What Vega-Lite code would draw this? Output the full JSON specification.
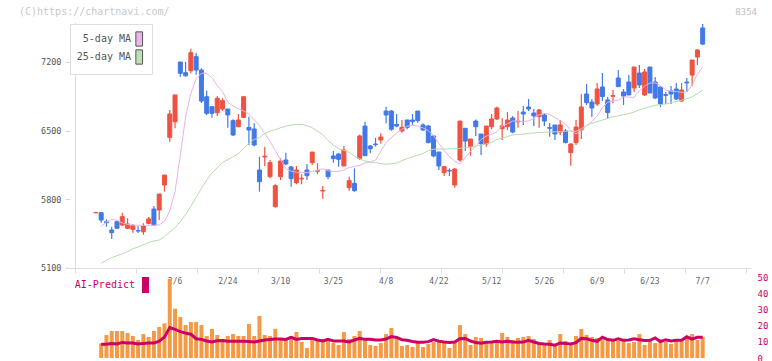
{
  "$schema": "https://vega.github.io/schema/vega-lite/v6.json",
  "width": 681,
  "height": 348,
  "autosize": {"type": "none"},
  "padding": {"left": 70, "top": 10, "right": 21, "bottom": 3},
  "background": "#ffffff",
  "config": {
    "view": {"stroke": null},
    "font": "DejaVu Sans Mono",
    "axis": {"labelFont": "DejaVu Sans Mono", "grid": false, "title": null},
    "legend": {"labelFont": "DejaVu Sans Mono"}
  },
  "title": {"text": "8354", "anchor": "end", "frame": "group", "orient": "top", "offset": 0, "dx": 6, "dy": 10, "fontSize": 9, "fontWeight": "normal", "color": "#c0c0c0", "font": "DejaVu Sans Mono"},
  "data": {"values": [
    {"date": "2026-01-16", "o": 5662, "h": 5666, "l": 5662, "c": 5666, "ma5": null, "ma25": null, "vol": null, "ai": null},
    {"date": "2026-01-19", "o": 5664, "h": 5670, "l": 5562, "c": 5589, "ma5": 5525, "ma25": 5150, "vol": 9.1, "ai": 8.5},
    {"date": "2026-01-20", "o": 5572, "h": 5596, "l": 5521, "c": 5562, "ma5": 5570, "ma25": 5180, "vol": 14.3, "ai": 8.5},
    {"date": "2026-01-21", "o": 5487, "h": 5521, "l": 5396, "c": 5460, "ma5": 5595, "ma25": 5205, "vol": 16.8, "ai": 9.0},
    {"date": "2026-01-22", "o": 5572, "h": 5582, "l": 5505, "c": 5505, "ma5": 5585, "ma25": 5225, "vol": 16.8, "ai": 8.7},
    {"date": "2026-01-23", "o": 5538, "h": 5664, "l": 5531, "c": 5623, "ma5": 5560, "ma25": 5245, "vol": 16.8, "ai": 9.7},
    {"date": "2026-01-26", "o": 5505, "h": 5607, "l": 5500, "c": 5549, "ma5": 5545, "ma25": 5265, "vol": 15.6, "ai": 9.3},
    {"date": "2026-01-27", "o": 5494, "h": 5549, "l": 5460, "c": 5531, "ma5": 5538, "ma25": 5295, "vol": 13.7, "ai": 9.3},
    {"date": "2026-01-28", "o": 5481, "h": 5525, "l": 5457, "c": 5477, "ma5": 5535, "ma25": 5315, "vol": 11.2, "ai": 8.7},
    {"date": "2026-01-29", "o": 5470, "h": 5555, "l": 5440, "c": 5528, "ma5": 5535, "ma25": 5335, "vol": 14.9, "ai": 9.1},
    {"date": "2026-01-30", "o": 5555, "h": 5620, "l": 5545, "c": 5600, "ma5": 5535, "ma25": 5360, "vol": 13.1, "ai": 9.3},
    {"date": "2026-02-02", "o": 5701, "h": 5732, "l": 5528, "c": 5538, "ma5": 5535, "ma25": 5375, "vol": 16.8, "ai": 9.3},
    {"date": "2026-02-03", "o": 5691, "h": 5854, "l": 5589, "c": 5854, "ma5": 5540, "ma25": 5385, "vol": 19.3, "ai": 10.5},
    {"date": "2026-02-04", "o": 5946, "h": 6048, "l": 5878, "c": 6048, "ma5": 5575, "ma25": 5420, "vol": 21.6, "ai": 13.0},
    {"date": "2026-02-05", "o": 6432, "h": 6711, "l": 6388, "c": 6670, "ma5": 5680, "ma25": 5465, "vol": 49.2, "ai": 19.0},
    {"date": "2026-02-06", "o": 6591, "h": 6864, "l": 6524, "c": 6864, "ma5": 5880, "ma25": 5510, "vol": 30.7, "ai": 17.8},
    {"date": "2026-02-09", "o": 7200, "h": 7200, "l": 7050, "c": 7085, "ma5": 6250, "ma25": 5575, "vol": 25.5, "ai": 16.4},
    {"date": "2026-02-10", "o": 7091, "h": 7200, "l": 7050, "c": 7060, "ma5": 6640, "ma25": 5645, "vol": 20.5, "ai": 15.5},
    {"date": "2026-02-12", "o": 7111, "h": 7336, "l": 7085, "c": 7295, "ma5": 6880, "ma25": 5730, "vol": 22.4, "ai": 14.8},
    {"date": "2026-02-13", "o": 7254, "h": 7295, "l": 7071, "c": 7118, "ma5": 7030, "ma25": 5820, "vol": 22.4, "ai": 12.0},
    {"date": "2026-02-16", "o": 7118, "h": 7136, "l": 6782, "c": 6802, "ma5": 7085, "ma25": 5910, "vol": 20.5, "ai": 11.6},
    {"date": "2026-02-17", "o": 6846, "h": 6907, "l": 6660, "c": 6677, "ma5": 7085, "ma25": 5995, "vol": 13.7, "ai": 10.6},
    {"date": "2026-02-18", "o": 6744, "h": 6744, "l": 6632, "c": 6677, "ma5": 7040, "ma25": 6070, "vol": 18.1, "ai": 10.0},
    {"date": "2026-02-19", "o": 6683, "h": 6853, "l": 6650, "c": 6830, "ma5": 6960, "ma25": 6120, "vol": 14.3, "ai": 10.7},
    {"date": "2026-02-20", "o": 6721, "h": 6830, "l": 6700, "c": 6806, "ma5": 6900, "ma25": 6175, "vol": 11.8, "ai": 10.9},
    {"date": "2026-02-24", "o": 6721, "h": 6721, "l": 6530, "c": 6660, "ma5": 6790, "ma25": 6205, "vol": 13.7, "ai": 10.4},
    {"date": "2026-02-25", "o": 6602, "h": 6616, "l": 6446, "c": 6456, "ma5": 6750, "ma25": 6235, "vol": 14.9, "ai": 10.4},
    {"date": "2026-02-26", "o": 6541, "h": 6670, "l": 6534, "c": 6609, "ma5": 6725, "ma25": 6265, "vol": 13.7, "ai": 10.4},
    {"date": "2026-02-27", "o": 6636, "h": 6846, "l": 6630, "c": 6846, "ma5": 6700, "ma25": 6320, "vol": 13.7, "ai": 10.4},
    {"date": "2026-03-02", "o": 6534, "h": 6643, "l": 6354, "c": 6507, "ma5": 6670, "ma25": 6370, "vol": 21.2, "ai": 10.2},
    {"date": "2026-03-03", "o": 6517, "h": 6575, "l": 6340, "c": 6354, "ma5": 6610, "ma25": 6410, "vol": 13.7, "ai": 9.9},
    {"date": "2026-03-04", "o": 6099, "h": 6235, "l": 5878, "c": 5980, "ma5": 6555, "ma25": 6430, "vol": 26.2, "ai": 10.6},
    {"date": "2026-03-05", "o": 6232, "h": 6337, "l": 6140, "c": 6240, "ma5": 6470, "ma25": 6470, "vol": 14.3, "ai": 11.2},
    {"date": "2026-03-06", "o": 6031, "h": 6201, "l": 6014, "c": 6174, "ma5": 6390, "ma25": 6495, "vol": 13.7, "ai": 11.5},
    {"date": "2026-03-09", "o": 5725, "h": 5953, "l": 5718, "c": 5939, "ma5": 6300, "ma25": 6510, "vol": 18.1, "ai": 11.8},
    {"date": "2026-03-10", "o": 6031, "h": 6218, "l": 5997, "c": 6191, "ma5": 6200, "ma25": 6530, "vol": 11.8, "ai": 11.9},
    {"date": "2026-03-11", "o": 6201, "h": 6276, "l": 6150, "c": 6160, "ma5": 6112, "ma25": 6545, "vol": 11.8, "ai": 11.6},
    {"date": "2026-03-12", "o": 6130, "h": 6140, "l": 5929, "c": 6011, "ma5": 6087, "ma25": 6558, "vol": 13.7, "ai": 12.9},
    {"date": "2026-03-13", "o": 5970, "h": 6140, "l": 5953, "c": 6099, "ma5": 6076, "ma25": 6562, "vol": 16.2, "ai": 11.6},
    {"date": "2026-03-16", "o": 6008, "h": 6055, "l": 5953, "c": 6014, "ma5": 6072, "ma25": 6564, "vol": 10.0, "ai": 12.2},
    {"date": "2026-03-17", "o": 6099, "h": 6160, "l": 5997, "c": 6041, "ma5": 6073, "ma25": 6550, "vol": 6.2, "ai": 12.2},
    {"date": "2026-03-18", "o": 6174, "h": 6282, "l": 6150, "c": 6282, "ma5": 6084, "ma25": 6530, "vol": 12.5, "ai": 12.2},
    {"date": "2026-03-19", "o": 6086, "h": 6167, "l": 6055, "c": 6092, "ma5": 6097, "ma25": 6495, "vol": 11.2, "ai": 11.2},
    {"date": "2026-03-23", "o": 5885, "h": 5936, "l": 5807, "c": 5891, "ma5": 6112, "ma25": 6460, "vol": 11.8, "ai": 10.6},
    {"date": "2026-03-24", "o": 6099, "h": 6099, "l": 6004, "c": 6031, "ma5": 6092, "ma25": 6400, "vol": 11.8, "ai": 11.6},
    {"date": "2026-03-25", "o": 6242, "h": 6293, "l": 6174, "c": 6215, "ma5": 6084, "ma25": 6355, "vol": 9.3, "ai": 10.6},
    {"date": "2026-03-26", "o": 6262, "h": 6269, "l": 6133, "c": 6208, "ma5": 6086, "ma25": 6318, "vol": 8.1, "ai": 10.6},
    {"date": "2026-03-27", "o": 6140, "h": 6344, "l": 6140, "c": 6303, "ma5": 6100, "ma25": 6300, "vol": 16.2, "ai": 10.6},
    {"date": "2026-03-30", "o": 5919, "h": 6031, "l": 5888, "c": 5990, "ma5": 6125, "ma25": 6280, "vol": 11.8, "ai": 10.0},
    {"date": "2026-03-31", "o": 5963, "h": 6116, "l": 5878, "c": 5888, "ma5": 6135, "ma25": 6240, "vol": 13.7, "ai": 11.2},
    {"date": "2026-04-01", "o": 6218, "h": 6462, "l": 6201, "c": 6446, "ma5": 6145, "ma25": 6212, "vol": 16.8, "ai": 12.2},
    {"date": "2026-04-02", "o": 6547, "h": 6592, "l": 6245, "c": 6245, "ma5": 6172, "ma25": 6192, "vol": 11.2, "ai": 11.6},
    {"date": "2026-04-03", "o": 6344, "h": 6354, "l": 6269, "c": 6316, "ma5": 6179, "ma25": 6180, "vol": 8.1, "ai": 11.6},
    {"date": "2026-04-06", "o": 6364, "h": 6428, "l": 6337, "c": 6358, "ma5": 6200, "ma25": 6176, "vol": 7.5, "ai": 11.2},
    {"date": "2026-04-07", "o": 6405, "h": 6473, "l": 6367, "c": 6435, "ma5": 6290, "ma25": 6165, "vol": 9.3, "ai": 11.2},
    {"date": "2026-04-08", "o": 6700, "h": 6744, "l": 6575, "c": 6660, "ma5": 6380, "ma25": 6157, "vol": 14.9, "ai": 11.8},
    {"date": "2026-04-09", "o": 6700, "h": 6711, "l": 6500, "c": 6514, "ma5": 6430, "ma25": 6163, "vol": 18.7, "ai": 13.3},
    {"date": "2026-04-10", "o": 6564, "h": 6670, "l": 6534, "c": 6547, "ma5": 6475, "ma25": 6170, "vol": 11.8, "ai": 12.8},
    {"date": "2026-04-13", "o": 6497, "h": 6609, "l": 6480, "c": 6534, "ma5": 6515, "ma25": 6195, "vol": 7.5, "ai": 11.4},
    {"date": "2026-04-14", "o": 6609, "h": 6609, "l": 6514, "c": 6534, "ma5": 6545, "ma25": 6215, "vol": 8.1, "ai": 11.0},
    {"date": "2026-04-15", "o": 6609, "h": 6670, "l": 6558, "c": 6592, "ma5": 6555, "ma25": 6233, "vol": 6.8, "ai": 10.3},
    {"date": "2026-04-16", "o": 6700, "h": 6700, "l": 6581, "c": 6602, "ma5": 6545, "ma25": 6250, "vol": 9.3, "ai": 9.8},
    {"date": "2026-04-17", "o": 6558, "h": 6575, "l": 6500, "c": 6507, "ma5": 6528, "ma25": 6268, "vol": 6.8, "ai": 9.8},
    {"date": "2026-04-20", "o": 6547, "h": 6558, "l": 6371, "c": 6378, "ma5": 6500, "ma25": 6295, "vol": 8.7, "ai": 10.2},
    {"date": "2026-04-21", "o": 6446, "h": 6446, "l": 6228, "c": 6242, "ma5": 6450, "ma25": 6310, "vol": 10.0, "ai": 11.5},
    {"date": "2026-04-22", "o": 6282, "h": 6282, "l": 6099, "c": 6140, "ma5": 6370, "ma25": 6313, "vol": 10.0, "ai": 10.5},
    {"date": "2026-04-23", "o": 6072, "h": 6140, "l": 6038, "c": 6133, "ma5": 6300, "ma25": 6313, "vol": 10.0, "ai": 10.0},
    {"date": "2026-04-24", "o": 6095, "h": 6116, "l": 6038, "c": 6089, "ma5": 6235, "ma25": 6313, "vol": 6.2, "ai": 9.6},
    {"date": "2026-04-27", "o": 5946, "h": 6119, "l": 5919, "c": 6109, "ma5": 6190, "ma25": 6316, "vol": 10.0, "ai": 10.0},
    {"date": "2026-04-28", "o": 6201, "h": 6598, "l": 6184, "c": 6598, "ma5": 6160, "ma25": 6320, "vol": 20.5, "ai": 12.0},
    {"date": "2026-04-30", "o": 6524, "h": 6524, "l": 6293, "c": 6394, "ma5": 6225, "ma25": 6326, "vol": 14.9, "ai": 12.2},
    {"date": "2026-05-01", "o": 6337, "h": 6415, "l": 6245, "c": 6415, "ma5": 6290, "ma25": 6332, "vol": 8.1, "ai": 10.6},
    {"date": "2026-05-07", "o": 6598, "h": 6615, "l": 6446, "c": 6541, "ma5": 6344, "ma25": 6342, "vol": 13.1, "ai": 9.6},
    {"date": "2026-05-08", "o": 6466, "h": 6466, "l": 6252, "c": 6367, "ma5": 6410, "ma25": 6352, "vol": 12.5, "ai": 9.2},
    {"date": "2026-05-11", "o": 6364, "h": 6547, "l": 6337, "c": 6547, "ma5": 6445, "ma25": 6365, "vol": 9.3, "ai": 9.8},
    {"date": "2026-05-12", "o": 6541, "h": 6670, "l": 6514, "c": 6619, "ma5": 6462, "ma25": 6380, "vol": 10.0, "ai": 9.9},
    {"date": "2026-05-13", "o": 6619, "h": 6744, "l": 6609, "c": 6731, "ma5": 6490, "ma25": 6410, "vol": 10.0, "ai": 10.4},
    {"date": "2026-05-14", "o": 6520, "h": 6626, "l": 6405, "c": 6548, "ma5": 6547, "ma25": 6425, "vol": 15.6, "ai": 10.0},
    {"date": "2026-05-15", "o": 6541, "h": 6690, "l": 6507, "c": 6609, "ma5": 6570, "ma25": 6440, "vol": 13.1, "ai": 10.4},
    {"date": "2026-05-18", "o": 6629, "h": 6650, "l": 6473, "c": 6486, "ma5": 6598, "ma25": 6456, "vol": 11.2, "ai": 10.0},
    {"date": "2026-05-19", "o": 6590, "h": 6700, "l": 6531, "c": 6597, "ma5": 6597, "ma25": 6460, "vol": 12.5, "ai": 9.8},
    {"date": "2026-05-20", "o": 6690, "h": 6751, "l": 6558, "c": 6670, "ma5": 6593, "ma25": 6465, "vol": 13.1, "ai": 9.9},
    {"date": "2026-05-21", "o": 6741, "h": 6823, "l": 6700, "c": 6721, "ma5": 6600, "ma25": 6472, "vol": 13.7, "ai": 11.0},
    {"date": "2026-05-22", "o": 6680, "h": 6721, "l": 6548, "c": 6650, "ma5": 6625, "ma25": 6476, "vol": 11.8, "ai": 10.0},
    {"date": "2026-05-25", "o": 6643, "h": 6721, "l": 6531, "c": 6711, "ma5": 6662, "ma25": 6481, "vol": 8.7, "ai": 9.0},
    {"date": "2026-05-26", "o": 6660, "h": 6680, "l": 6548, "c": 6598, "ma5": 6675, "ma25": 6484, "vol": 8.7, "ai": 8.7},
    {"date": "2026-05-27", "o": 6531, "h": 6578, "l": 6439, "c": 6524, "ma5": 6666, "ma25": 6487, "vol": 11.2, "ai": 8.5},
    {"date": "2026-05-28", "o": 6558, "h": 6558, "l": 6405, "c": 6466, "ma5": 6635, "ma25": 6489, "vol": 7.5, "ai": 8.0},
    {"date": "2026-05-29", "o": 6486, "h": 6609, "l": 6456, "c": 6558, "ma5": 6600, "ma25": 6492, "vol": 14.9, "ai": 9.4},
    {"date": "2026-06-01", "o": 6497, "h": 6517, "l": 6371, "c": 6378, "ma5": 6570, "ma25": 6494, "vol": 10.6, "ai": 9.1},
    {"date": "2026-06-02", "o": 6276, "h": 6371, "l": 6143, "c": 6364, "ma5": 6500, "ma25": 6497, "vol": 9.3, "ai": 8.7},
    {"date": "2026-06-03", "o": 6378, "h": 6609, "l": 6354, "c": 6537, "ma5": 6468, "ma25": 6492, "vol": 13.7, "ai": 9.5},
    {"date": "2026-06-04", "o": 6507, "h": 6874, "l": 6415, "c": 6741, "ma5": 6495, "ma25": 6520, "vol": 18.1, "ai": 12.2},
    {"date": "2026-06-05", "o": 6874, "h": 6976, "l": 6762, "c": 6785, "ma5": 6550, "ma25": 6555, "vol": 14.3, "ai": 12.0},
    {"date": "2026-06-08", "o": 6792, "h": 6823, "l": 6639, "c": 6731, "ma5": 6592, "ma25": 6575, "vol": 13.1, "ai": 11.0},
    {"date": "2026-06-09", "o": 6772, "h": 6986, "l": 6751, "c": 6925, "ma5": 6650, "ma25": 6592, "vol": 12.5, "ai": 10.4},
    {"date": "2026-06-10", "o": 6945, "h": 7088, "l": 6802, "c": 6847, "ma5": 6735, "ma25": 6608, "vol": 13.1, "ai": 13.0},
    {"date": "2026-06-11", "o": 6813, "h": 6847, "l": 6619, "c": 6684, "ma5": 6790, "ma25": 6625, "vol": 11.2, "ai": 11.5},
    {"date": "2026-06-12", "o": 6851, "h": 6915, "l": 6779, "c": 6857, "ma5": 6801, "ma25": 6641, "vol": 11.2, "ai": 11.0},
    {"date": "2026-06-15", "o": 7037, "h": 7118, "l": 6949, "c": 6949, "ma5": 6810, "ma25": 6652, "vol": 10.6, "ai": 11.9},
    {"date": "2026-06-16", "o": 6894, "h": 6925, "l": 6762, "c": 6853, "ma5": 6845, "ma25": 6663, "vol": 11.2, "ai": 11.0},
    {"date": "2026-06-17", "o": 6996, "h": 7067, "l": 6864, "c": 6864, "ma5": 6842, "ma25": 6673, "vol": 9.3, "ai": 11.2},
    {"date": "2026-06-18", "o": 6935, "h": 7149, "l": 6894, "c": 7149, "ma5": 6840, "ma25": 6690, "vol": 10.0, "ai": 11.9},
    {"date": "2026-06-19", "o": 7088, "h": 7169, "l": 6935, "c": 6966, "ma5": 6905, "ma25": 6713, "vol": 14.9, "ai": 11.4},
    {"date": "2026-06-22", "o": 6864, "h": 7128, "l": 6853, "c": 7098, "ma5": 6955, "ma25": 6730, "vol": 8.1, "ai": 10.9},
    {"date": "2026-06-23", "o": 7149, "h": 7149, "l": 6884, "c": 6884, "ma5": 6985, "ma25": 6745, "vol": 10.6, "ai": 11.0},
    {"date": "2026-06-24", "o": 6996, "h": 7047, "l": 6823, "c": 6833, "ma5": 6987, "ma25": 6759, "vol": 9.3, "ai": 12.5},
    {"date": "2026-06-25", "o": 6945, "h": 6945, "l": 6741, "c": 6772, "ma5": 6960, "ma25": 6766, "vol": 11.8, "ai": 10.2},
    {"date": "2026-06-26", "o": 6868, "h": 6894, "l": 6772, "c": 6860, "ma5": 6915, "ma25": 6772, "vol": 10.0, "ai": 11.4},
    {"date": "2026-06-29", "o": 6904, "h": 6955, "l": 6772, "c": 6874, "ma5": 6902, "ma25": 6785, "vol": 8.7, "ai": 10.6},
    {"date": "2026-06-30", "o": 6925, "h": 6986, "l": 6813, "c": 6823, "ma5": 6900, "ma25": 6798, "vol": 11.2, "ai": 11.0},
    {"date": "2026-07-01", "o": 6802, "h": 6986, "l": 6792, "c": 6915, "ma5": 6890, "ma25": 6810, "vol": 11.2, "ai": 11.0},
    {"date": "2026-07-02", "o": 6996, "h": 7037, "l": 6894, "c": 6986, "ma5": 6896, "ma25": 6825, "vol": 13.1, "ai": 13.2},
    {"date": "2026-07-03", "o": 7067, "h": 7220, "l": 6955, "c": 7220, "ma5": 6965, "ma25": 6845, "vol": 14.9, "ai": 11.8},
    {"date": "2026-07-06", "o": 7251, "h": 7332, "l": 7169, "c": 7322, "ma5": 7075, "ma25": 6877, "vol": 11.2, "ai": 12.9},
    {"date": "2026-07-07", "o": 7547, "h": 7587, "l": 7373, "c": 7383, "ma5": 7150, "ma25": 6915, "vol": 13.1, "ai": 12.9}
  ]},
  "transform": [{"window": [{"op": "row_number", "as": "j"}]}],
  "encoding": {
    "x": {
      "field": "j", "type": "quantitative",
      "scale": {"domain": [-2.96, 124.21], "nice": false, "zero": false},
      "axis": {
        "orient": "bottom", "offset": -90,
        "values": [-2.96, 8.601, 20.162, 31.723, 43.284, 54.845, 66.406, 77.967, 89.528, 101.089, 112.65, 124.21],
        "labels": false, "tickSize": 5, "tickColor": "#dddddd", "domainColor": "#dddddd", "grid": false, "title": null
      }
    }
  },
  "layer": [
    {
      "layer": [
        {
          "transform": [{"filter": "datum.j == 1"}],
          "mark": {"type": "rule", "color": "#dddddd", "strokeWidth": 1},
          "encoding": {
            "x": {"datum": -2.867, "type": "quantitative"},
            "y": {"datum": 5100, "type": "quantitative", "scale": {"domain": [4182.5, 7730.1], "nice": false, "zero": false}},
            "y2": {"datum": 7600}
          }
        },
        {
          "mark": {"type": "rule", "strokeWidth": 1.2},
          "encoding": {
            "y": {
              "field": "l", "type": "quantitative",
              "scale": {"domain": [4182.5, 7730.1], "nice": false, "zero": false},
              "axis": {
                "orient": "left", "values": [5100, 5800, 6500, 7200], "format": "d", "domain": false, "grid": false,
                "tickSize": 5, "tickColor": "#d8d8d8", "labelColor": "#555555", "labelFontSize": 8.5,
                "labelPadding": 4, "title": null
              }
            },
            "y2": {"field": "h"},
            "color": {"condition": {"test": "datum.c >= datum.o", "value": "#ef5240"}, "value": "#4279e8"}
          }
        },
        {
          "mark": {"type": "bar", "width": 4, "strokeWidth": 1},
          "encoding": {
            "y": {"field": "o", "type": "quantitative", "scale": {"domain": [4182.5, 7730.1], "nice": false, "zero": false}},
            "y2": {"field": "c"},
            "color": {"condition": {"test": "datum.c >= datum.o", "value": "#ef5240"}, "value": "#4279e8"},
            "stroke": {"condition": {"test": "datum.c >= datum.o", "value": "#ef5240"}, "value": "#4279e8"}
          }
        },
        {
          "transform": [{"fold": ["ma5", "ma25"], "as": ["series", "v"]}],
          "mark": {"type": "line", "strokeWidth": 1},
          "encoding": {
            "y": {"field": "v", "type": "quantitative", "scale": {"domain": [4182.5, 7730.1], "nice": false, "zero": false}},
            "stroke": {
              "field": "series", "type": "nominal",
              "scale": {"domain": ["ma5", "ma25"], "range": ["#e8b2ea", "#b6dcae"]},
              "legend": null
            }
          }
        },
        {
          "transform": [{"fold": ["ma5", "ma25"], "as": ["series", "v"]}, {"filter": "false"}],
          "mark": {"type": "square"},
          "encoding": {
            "y": {"field": "v", "type": "quantitative", "scale": {"domain": [4182.5, 7730.1], "nice": false, "zero": false}},
            "fill": {
              "field": "series", "type": "nominal",
              "scale": {"domain": ["ma5", "ma25"], "range": ["#ebb6ea", "#bde0b5"]},
              "legend": {
                "orient": "none", "legendX": 0, "legendY": 14, "title": null,
                "labelExpr": "datum.value == 'ma5' ? '5-day MA' : '25-day MA'",
                "symbolType": "M-0.47,-1H0.47V1H-0.47Z", "symbolSize": 204,
                "symbolStrokeColor": "#555555", "symbolStrokeWidth": 1, "symbolOpacity": 1,
                "symbolOffset": 54.2,
                "labelAlign": "right", "labelOffset": -16.2, "labelFontSize": 10, "labelColor": "#555555",
                "fillColor": "#ffffff", "strokeColor": "#dddddd", "padding": 7, "rowPadding": -3
              }
            }
          }
        },
        {
          "transform": [{"filter": "datum.j == 1"}],
          "mark": {"type": "text", "text": "(C)https://chartnavi.com/", "align": "left", "baseline": "middle", "dx": -56, "dy": 2, "fontSize": 10, "color": "#c8c8c8"},
          "encoding": {
            "x": {"datum": -2.96, "type": "quantitative"},
            "y": {"datum": 7730.1, "type": "quantitative", "scale": {"domain": [4182.5, 7730.1], "nice": false, "zero": false}}
          }
        }
      ]
    },
    {
      "layer": [
        {
          "transform": [
            {"filter": "datum.j >= 16 && datum.j % 10 == 6"},
            {"calculate": "utcFormat(toDate(datum.date), '%-m/%-d')", "as": "lab"}
          ],
          "mark": {"type": "text", "fontSize": 8, "color": "#666666", "baseline": "middle"},
          "encoding": {
            "y": {"datum": 47.1, "type": "quantitative", "scale": {"domain": [0, 216.7], "nice": false, "zero": false}},
            "text": {"field": "lab"}
          }
        },
        {
          "mark": {"type": "bar", "width": 4, "color": "#f29a45"},
          "encoding": {
            "y": {
              "field": "vol", "type": "quantitative",
              "scale": {"domain": [0, 216.7], "nice": false, "zero": false},
              "axis": {
                "orient": "right", "values": [0, 10, 20, 30, 40, 50], "domain": false, "ticks": false,
                "grid": false, "labelColor": "#cc0066", "labelFontSize": 9, "labelPadding": 6, "title": null
              }
            }
          }
        },
        {
          "mark": {"type": "line", "strokeWidth": 3},
          "encoding": {
            "y": {"field": "ai", "type": "quantitative", "scale": {"domain": [0, 216.7], "nice": false, "zero": false}},
            "stroke": {
              "datum": "AI-Predict", "type": "nominal",
              "scale": {"range": ["#cc0066"]},
              "legend": {
                "orient": "none", "legendX": 6, "legendY": 267, "title": null,
                "symbolType": "M-0.44,-1H0.44V1H-0.44Z", "symbolSize": 256,
                "symbolFillColor": "#cc0066", "symbolStrokeWidth": 0, "symbolOffset": 61.5,
                "labelColor": "#cc0066", "labelFontSize": 10, "labelAlign": "right", "labelOffset": -18.5, "padding": 0
              }
            }
          }
        }
      ]
    }
  ],
  "resolve": {"scale": {"y": "independent", "stroke": "independent"}}
}
